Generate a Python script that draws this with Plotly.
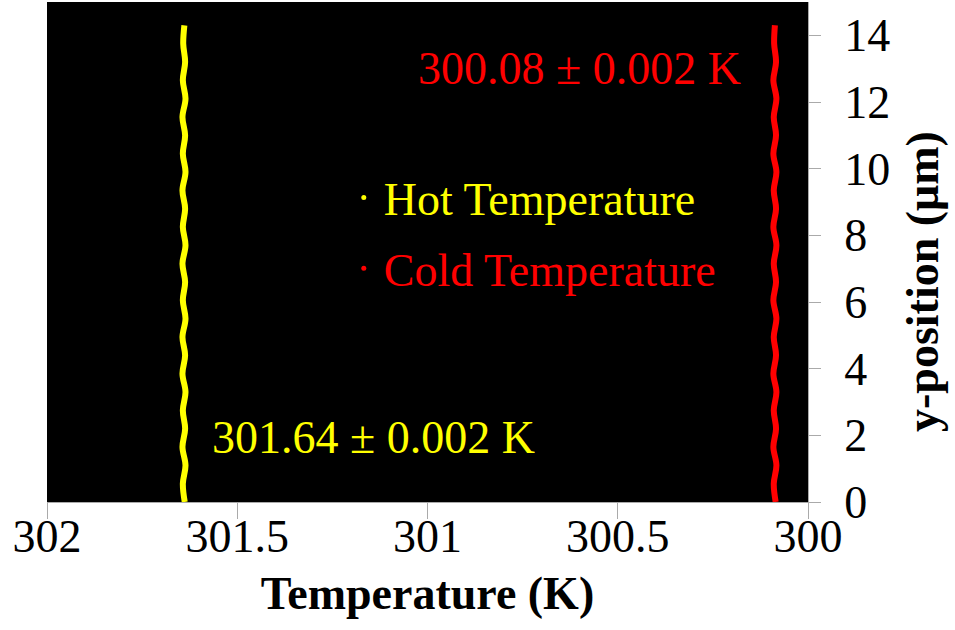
import plotly.graph_objects as go

# ---- data ----
hot_y = [0.0, 0.55, 1.1, 1.65, 2.2, 2.75, 3.3, 3.85, 4.4, 4.95, 5.5, 6.05, 6.6, 7.15,
         7.7, 8.25, 8.8, 9.35, 9.9, 10.45, 11.0, 11.55, 12.1, 12.65, 13.2, 13.75, 14.3]
hot_x = [301.638, 301.643, 301.636, 301.644, 301.637, 301.643, 301.636, 301.644, 301.637,
         301.644, 301.636, 301.643, 301.637, 301.644, 301.636, 301.643, 301.637, 301.644,
         301.636, 301.643, 301.637, 301.644, 301.636, 301.643, 301.637, 301.642, 301.639]
cold_y = hot_y
cold_x = [300.085, 300.090, 300.083, 300.091, 300.084, 300.090, 300.083, 300.091, 300.084,
          300.090, 300.083, 300.091, 300.084, 300.090, 300.083, 300.091, 300.084, 300.090,
          300.083, 300.091, 300.084, 300.090, 300.083, 300.091, 300.084, 300.089, 300.087]

x_ticks = [302, 301.5, 301, 300.5, 300]
x_tick_text = ["302", "301.5", "301", "300.5", "300"]
y_ticks = [0, 2, 4, 6, 8, 10, 12, 14]

hot_label = "301.64 ± 0.002 K"
cold_label = "300.08 ± 0.002 K"

HOT = "#ffff00"
COLD = "#ff0000"
FONT = "Liberation Serif"
FS = 46

fig = go.Figure()
fig.add_trace(go.Scatter(x=hot_x, y=hot_y, mode="lines", line=dict(color=HOT, width=6, shape="spline"),
                         showlegend=False, hoverinfo="skip"))
fig.add_trace(go.Scatter(x=cold_x, y=cold_y, mode="lines", line=dict(color=COLD, width=6, shape="spline"),
                         showlegend=False, hoverinfo="skip"))
# legend entries (small dots as in reference)
fig.add_trace(go.Scatter(x=[None], y=[None], mode="markers", marker=dict(color=HOT, size=5),
                         name=f"<span style='color:{HOT}'>Hot Temperature</span>", legendgroup="h"))
fig.add_trace(go.Scatter(x=[None], y=[None], mode="markers", marker=dict(color=COLD, size=5),
                         name=f"<span style='color:{COLD}'>Cold Temperature</span>", legendgroup="c"))

fig.add_annotation(x=300.6, y=13.0, xref="x", yref="y", text=cold_label, showarrow=False,
                   font=dict(family=FONT, size=FS, color=COLD))
fig.add_annotation(x=301.143, y=1.95, xref="x", yref="y", text=hot_label, showarrow=False,
                   font=dict(family=FONT, size=FS, color=HOT))
# y-axis title (placed as in reference, right of the tick labels)
fig.add_annotation(x=(922 - 47) / 761, y=0.44, xref="paper", yref="paper", text="<b>y-position (μm)</b>",
                   xanchor="center", yanchor="middle", textangle=-90, showarrow=False,
                   font=dict(family=FONT, size=46, color="black"))

fig.update_layout(
    width=955, height=630,
    margin=dict(l=47, r=147, t=2, b=128),
    paper_bgcolor="white", plot_bgcolor="black",
    font=dict(family=FONT, size=FS, color="black"),
    legend=dict(x=0.39, y=0.682, xanchor="left", yanchor="top", bgcolor="rgba(0,0,0,0)",
                font=dict(family=FONT, size=FS), tracegroupgap=8),
    xaxis=dict(range=[302, 300], tickvals=x_ticks, ticktext=x_tick_text, showgrid=False, zeroline=False,
               ticks="outside", ticklen=16, tickcolor="#aaaaaa", showline=True, linecolor="#aaaaaa",
               tickfont=dict(family=FONT, size=FS), ticklabelstandoff=-22,
               title=dict(text="<b>Temperature (K)</b>", font=dict(family=FONT, size=FS), standoff=15)),
    yaxis=dict(range=[0, 15], tickvals=y_ticks, side="right", showgrid=False, zeroline=False,
               ticks="outside", ticklen=12, tickcolor="#aaaaaa", showline=True, linecolor="#aaaaaa",
               tickfont=dict(family=FONT, size=FS), ticklabelstandoff=14),
)

fig.write_html("out.html")
